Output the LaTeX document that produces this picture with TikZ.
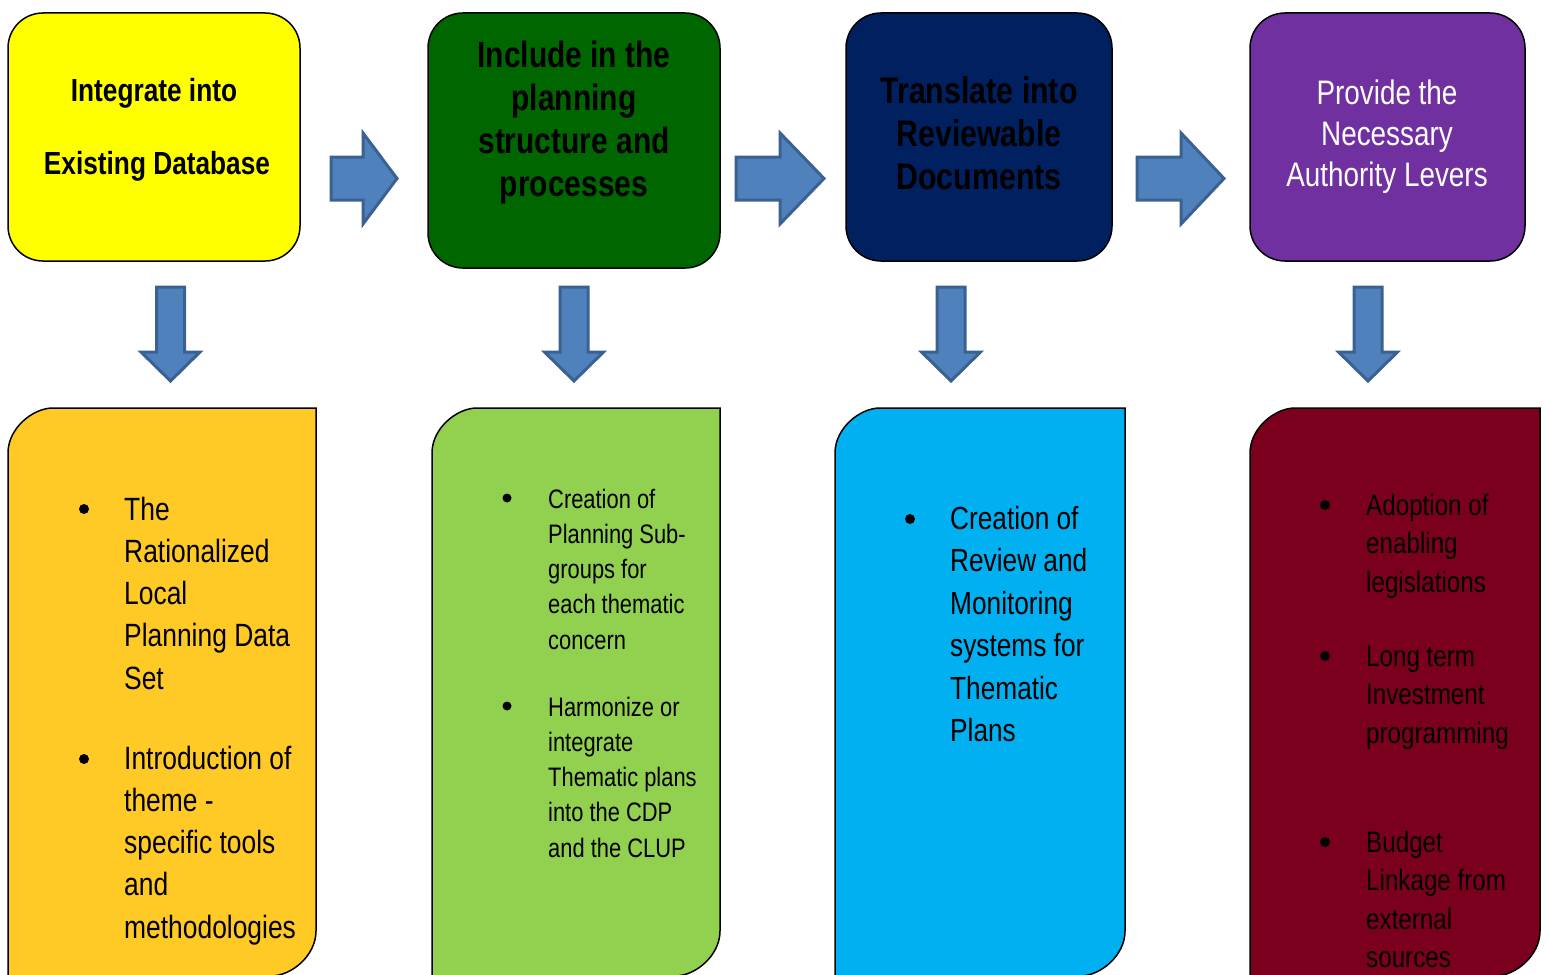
\documentclass[tikz,border=0pt]{standalone}
\usepackage{fontspec}
\setmainfont{Liberation Sans}[FakeStretch=0.82]
\definecolor{ylw}{HTML}{FFFF00}
\definecolor{grn}{HTML}{006600}
\definecolor{navy}{HTML}{002060}
\definecolor{purp}{HTML}{7030A0}
\definecolor{gold}{HTML}{FFC926}
\definecolor{lime}{HTML}{92D050}
\definecolor{sky}{HTML}{00B0F0}
\definecolor{maroon}{HTML}{7A001E}
\definecolor{arrowfill}{HTML}{4F81BD}
\definecolor{arrowedge}{HTML}{3A6192}
\tikzset{
  topbox/.style={draw=black, line width=1.5pt, rounded corners=35pt},
  ttl/.style={anchor=base, inner sep=0pt},
  bodyline/.style={anchor=base west, inner sep=0pt},
  blk/.style={fill=arrowfill, draw=arrowedge, line width=3pt, line join=miter},
  bbox/.style={draw=black, line width=1.5pt},
}
% right block arrow: #1 shaft left, #2 head base, #3 tip, #4 centre y
\newcommand{\rblk}[4]{%
  \draw[blk] (#1,#4-21.5) -- (#2,#4-21.5) -- (#2,#4-45.5) -- (#3,#4) -- (#2,#4+45.5) -- (#2,#4+21.5) -- (#1,#4+21.5) -- cycle;}
% down block arrow: #1 centre x
\newcommand{\dblk}[1]{%
  \draw[blk] (#1-14,287) -- (#1+14,287) -- (#1+14,352) -- (#1+29.5,352) -- (#1,381) -- (#1-29.5,352) -- (#1-14,352) -- cycle;}
% bottom box: #1 left x, #2 right x, #3 fill
\newcommand{\lowbox}[3]{%
  \draw[bbox, fill=#3] (#1,990) -- (#1,453) .. controls (#1,428.2) and (#1+24.8,408) .. (#1+45,408) -- (#2,408) -- (#2,931) .. controls (#2,955.8) and (#2-24.8,976) .. (#2-45,976) -- (#1,976) -- cycle;}
\begin{document}
\begin{tikzpicture}[x=1pt, y=-1pt]
\useasboundingbox (0,0) rectangle (1549,974);
\clip (0,0) rectangle (1549,974);

% top boxes
\node[topbox, fill=ylw, minimum width=292pt, minimum height=248pt] (t1) at (154,137) {};
\node[topbox, fill=grn, minimum width=292pt, minimum height=255pt] (t2) at (574,140.5) {};
\node[topbox, fill=navy, minimum width=266pt, minimum height=248pt] (t3) at (979,137) {};
\node[topbox, fill=purp, minimum width=275pt, minimum height=248pt] (t4) at (1387.5,137) {};

% titles
\node[ttl, font=\bfseries\fontsize{32}{38}\selectfont] (h11) at (154,101.5) {Integrate into};
\node[ttl, font=\bfseries\fontsize{32}{38}\selectfont] (h12) at (157,174.5) {Existing Database};
\foreach \s [count=\i] in {Include in the, planning, structure and, processes}
  \node[ttl, font=\bfseries\fontsize{36.5}{42}\selectfont] (h2\i) at (574,{67+43*(\i-1)}) {\s};
\foreach \s [count=\i] in {Translate into, Reviewable, Documents}
  \node[ttl, font=\bfseries\fontsize{37}{43}\selectfont] (h3\i) at (979,{103+43*(\i-1)}) {\s};
\foreach \s [count=\i] in {Provide the, Necessary, Authority Levers}
  \node[ttl, text=white, font=\fontsize{34}{40}\selectfont] (h4\i) at (1387,{104+41*(\i-1)}) {\s};

% block arrows
\rblk{331}{363}{397}{178.5}
\rblk{736}{780}{824}{178.5}
\rblk{1137}{1181}{1224}{178.5}
\dblk{170.5}
\dblk{574}
\dblk{951}
\dblk{1368}

% bottom boxes
\lowbox{8}{316}{gold}
\lowbox{432}{720}{lime}
\lowbox{835}{1125}{sky}
\lowbox{1250}{1540}{maroon}

% box 1 text
\fill (84,509) circle (5);
\fill (84,759) circle (5);
\foreach \s [count=\i] in {The, Rationalized, Local, Planning Data, Set}
  \node[bodyline, font=\fontsize{32.2}{40}\selectfont] (a1\i) at (124,{520+42.3*(\i-1)}) {\s};
\foreach \s [count=\i] in {Introduction of, theme -, specific tools, and, methodologies}
  \node[bodyline, font=\fontsize{32.2}{40}\selectfont] (a2\i) at (124,{769+42.3*(\i-1)}) {\s};

% box 2 text
\fill (507,498) circle (4.5);
\fill (507,706) circle (4.5);
\foreach \s [count=\i] in {Creation of, Planning Sub-, groups for, each thematic, concern}
  \node[bodyline, font=\fontsize{26.7}{33}\selectfont] (b1\i) at (548,{508+35.3*(\i-1)}) {\s};
\foreach \s [count=\i] in {Harmonize or, integrate, Thematic plans, into the CDP, and the CLUP}
  \node[bodyline, font=\fontsize{26.7}{33}\selectfont] (b2\i) at (548,{716+35.3*(\i-1)}) {\s};

% box 3 text
\fill (910,519) circle (5);
\foreach \s [count=\i] in {Creation of, Review and, Monitoring, systems for, Thematic, Plans}
  \node[bodyline, font=\fontsize{32}{38}\selectfont] (c1\i) at (950,{529.5+42.4*(\i-1)}) {\s};

% box 4 text
\fill (1325,505) circle (5);
\fill (1325,656) circle (5);
\fill (1325,842) circle (5);
\foreach \s [count=\i] in {Adoption of, enabling, legislations}
  \node[bodyline, font=\fontsize{29.5}{35}\selectfont] (d1\i) at (1366,{515+38.6*(\i-1)}) {\s};
\foreach \s [count=\i] in {Long term, Investment, programming}
  \node[bodyline, font=\fontsize{29.5}{35}\selectfont] (d2\i) at (1366,{666+38.6*(\i-1)}) {\s};
\foreach \s [count=\i] in {Budget, Linkage from, external, sources}
  \node[bodyline, font=\fontsize{29.5}{35}\selectfont] (d3\i) at (1366,{852+38.6*(\i-1)}) {\s};
\end{tikzpicture}
\end{document}
